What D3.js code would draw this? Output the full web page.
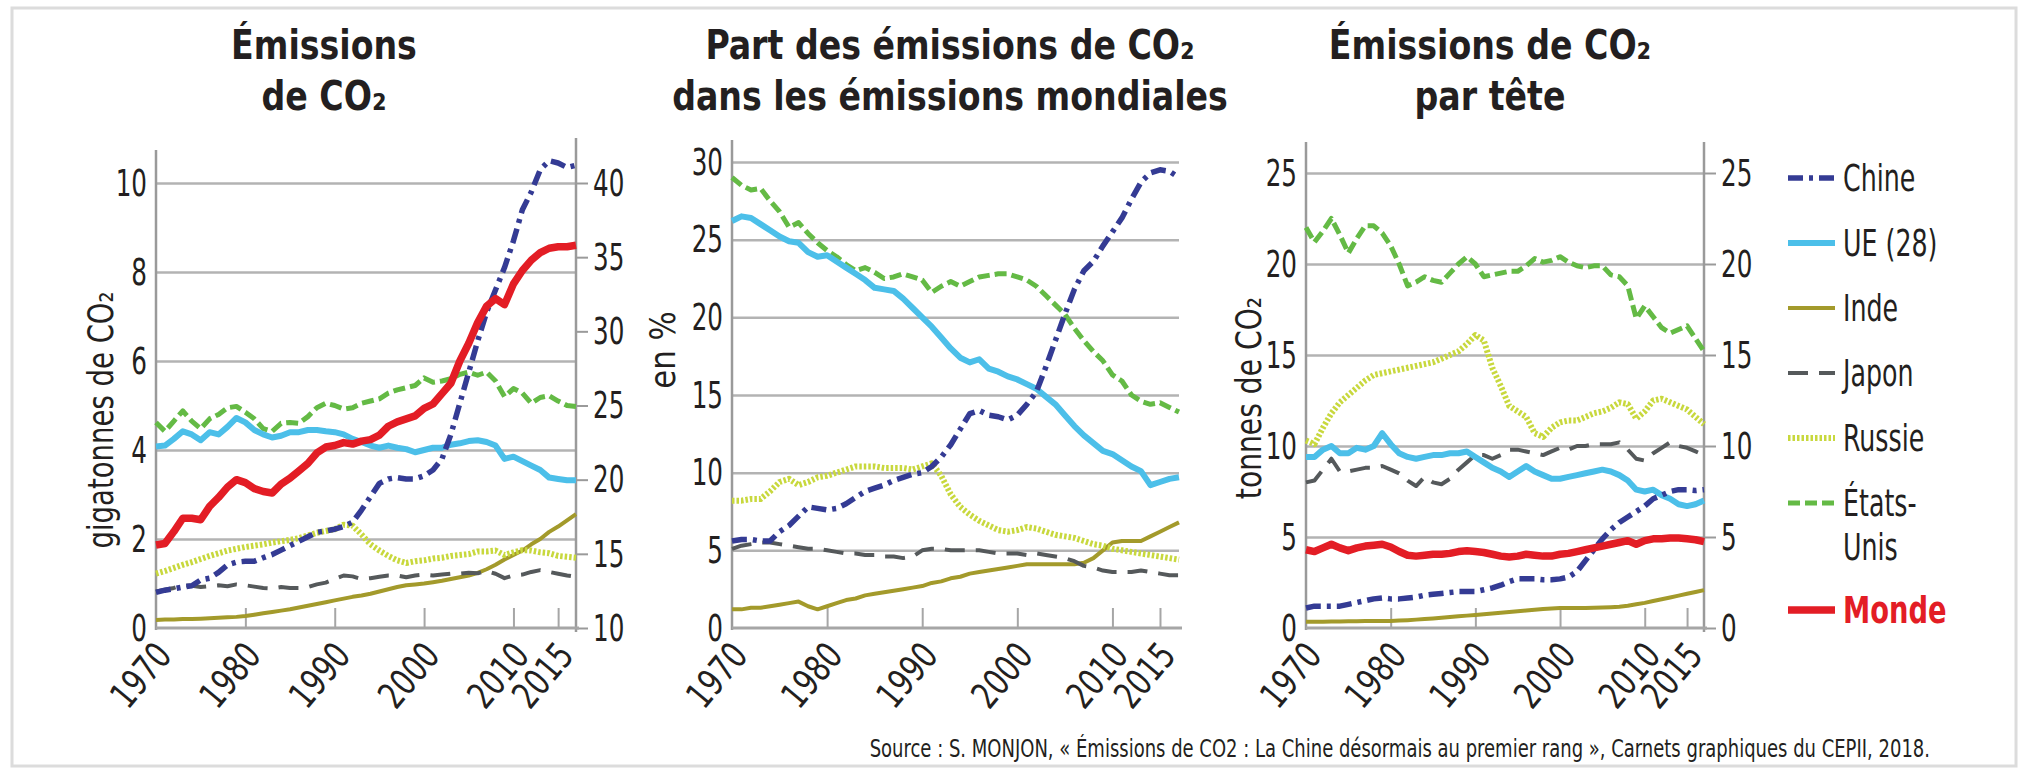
<!DOCTYPE html>
<html>
<head>
<meta charset="utf-8">
<script src="https://cdn.jsdelivr.net/npm/d3@7"></script>
<style>
  body { margin: 0; background: #fff; }
  svg text { font-family: 'DejaVu Sans Condensed', 'DejaVu Sans', sans-serif; fill: #231f20; }
</style>
</head>
<body>
<svg id="chart" width="2021" height="770"></svg>
<script>
const years = [1970,1971,1972,1973,1974,1975,1976,1977,1978,1979,
  1980,1981,1982,1983,1984,1985,1986,1987,1988,1989,
  1990,1991,1992,1993,1994,1995,1996,1997,1998,1999,
  2000,2001,2002,2003,2004,2005,2006,2007,2008,2009,
  2010,2011,2012,2013,2014,2015,2016,2017]

// emissions, gigatonnes (Monde on the right axis)
const gtChine = [0.80,0.85,0.88,0.92,0.95,1.08,1.12,1.25,1.42,1.48,
  1.50,1.50,1.58,1.65,1.75,1.85,1.95,2.05,2.15,2.18,
  2.22,2.28,2.38,2.65,2.95,3.25,3.35,3.38,3.35,3.35,
  3.42,3.55,3.80,4.35,5.05,5.75,6.45,7.10,7.60,8.10,
  8.70,9.40,9.80,10.30,10.50,10.45,10.35,10.40]
const gtUE = [4.08,4.10,4.25,4.42,4.35,4.22,4.40,4.35,4.52,4.72,
  4.62,4.45,4.35,4.28,4.32,4.40,4.40,4.45,4.45,4.42,
  4.40,4.35,4.25,4.18,4.10,4.05,4.10,4.05,4.02,3.95,
  4.00,4.05,4.05,4.12,4.15,4.20,4.22,4.18,4.10,3.80,
  3.85,3.75,3.65,3.55,3.38,3.35,3.32,3.32]
const gtInde = [0.18,0.19,0.19,0.20,0.20,0.21,0.22,0.23,0.24,0.25,
  0.27,0.30,0.33,0.36,0.39,0.42,0.46,0.50,0.54,0.58,
  0.62,0.66,0.70,0.73,0.77,0.82,0.87,0.92,0.96,0.98,
  1.00,1.03,1.06,1.10,1.14,1.18,1.24,1.32,1.42,1.54,
  1.64,1.74,1.88,2.00,2.16,2.28,2.42,2.56]
const gtJapon = [0.82,0.86,0.90,0.96,0.95,0.92,0.94,0.96,0.94,0.98,
  0.96,0.93,0.90,0.89,0.92,0.90,0.90,0.92,0.98,1.02,
  1.10,1.18,1.16,1.10,1.12,1.15,1.18,1.18,1.14,1.18,
  1.20,1.18,1.20,1.22,1.22,1.24,1.23,1.28,1.22,1.12,
  1.18,1.20,1.26,1.30,1.26,1.22,1.18,1.15]
const gtRussie = [1.22,1.28,1.35,1.42,1.48,1.55,1.62,1.68,1.74,1.78,
  1.82,1.85,1.88,1.92,1.95,1.98,2.02,2.08,2.14,2.18,
  2.22,2.32,2.30,2.10,1.88,1.74,1.62,1.52,1.46,1.50,
  1.52,1.56,1.58,1.62,1.64,1.66,1.72,1.72,1.74,1.64,
  1.70,1.75,1.74,1.70,1.68,1.62,1.60,1.58]
const gtEtatsUnis = [4.62,4.42,4.65,4.88,4.65,4.48,4.70,4.80,4.95,4.98,
  4.85,4.70,4.48,4.42,4.60,4.62,4.60,4.75,4.95,5.05,
  5.00,4.92,4.95,5.05,5.10,5.15,5.28,5.35,5.40,5.45,
  5.62,5.52,5.55,5.60,5.70,5.75,5.68,5.75,5.55,5.20,
  5.38,5.28,5.05,5.18,5.22,5.10,5.00,4.98]
const gtMonde = [15.6,15.7,16.5,17.4,17.4,17.3,18.2,18.8,19.5,20.0,
  19.8,19.4,19.2,19.1,19.7,20.1,20.6,21.1,21.8,22.2,
  22.3,22.5,22.4,22.6,22.7,23.0,23.6,23.9,24.1,24.3,
  24.8,25.1,25.8,26.5,28.0,29.2,30.6,31.7,32.2,31.8,
  33.2,34.1,34.8,35.3,35.6,35.7,35.7,35.8]

// share of world emissions, %
const partChine = [5.6,5.7,5.7,5.6,5.6,6.2,6.6,7.2,7.8,7.7,
  7.6,7.7,8.0,8.4,8.8,9.0,9.2,9.5,9.7,9.9,
  10.0,10.4,11.0,11.8,12.8,13.8,14.0,13.7,13.6,13.4,
  13.7,14.4,15.2,16.8,18.5,20.2,21.8,23.0,23.6,24.6,
  25.5,26.4,27.6,28.7,29.3,29.5,29.4,29.0]
const partUE = [26.2,26.5,26.4,26.0,25.6,25.2,24.9,24.8,24.2,23.9,
  24.0,23.6,23.2,22.8,22.4,21.9,21.8,21.7,21.2,20.6,
  20.0,19.4,18.7,18.0,17.4,17.1,17.3,16.7,16.5,16.2,
  16.0,15.7,15.4,14.9,14.4,13.7,13.0,12.4,11.9,11.4,
  11.2,10.8,10.4,10.1,9.2,9.4,9.6,9.7]
const partInde = [1.2,1.2,1.3,1.3,1.4,1.5,1.6,1.7,1.4,1.2,
  1.4,1.6,1.8,1.9,2.1,2.2,2.3,2.4,2.5,2.6,
  2.7,2.9,3.0,3.2,3.3,3.5,3.6,3.7,3.8,3.9,
  4.0,4.1,4.1,4.1,4.1,4.1,4.1,4.2,4.5,5.0,
  5.5,5.6,5.6,5.6,5.9,6.2,6.5,6.8]
const partJapon = [5.1,5.3,5.4,5.5,5.5,5.4,5.3,5.2,5.1,5.1,
  5.0,4.9,4.8,4.8,4.7,4.7,4.6,4.6,4.5,4.6,
  5.0,5.1,5.1,5.0,5.0,5.0,5.0,4.9,4.8,4.8,
  4.8,4.7,4.8,4.7,4.6,4.5,4.3,4.0,3.9,3.7,
  3.6,3.6,3.6,3.7,3.6,3.5,3.4,3.4]
const partRussie = [8.2,8.2,8.3,8.3,8.8,9.4,9.6,9.2,9.4,9.7,
  9.8,10.0,10.2,10.4,10.4,10.4,10.3,10.3,10.3,10.2,
  10.4,10.6,9.8,8.6,7.8,7.3,6.9,6.6,6.3,6.2,
  6.3,6.5,6.4,6.2,6.0,5.9,5.8,5.6,5.4,5.3,
  5.1,5.0,4.9,4.8,4.7,4.6,4.5,4.4]
const partEtatsUnis = [29.0,28.5,28.2,28.3,27.5,26.8,25.8,26.1,25.4,24.8,
  24.3,23.9,23.4,23.0,23.2,22.9,22.5,22.6,22.8,22.6,
  22.4,21.6,22.0,22.3,22.0,22.3,22.6,22.7,22.8,22.8,
  22.6,22.4,22.0,21.4,20.8,20.2,19.3,18.5,17.8,17.2,
  16.3,15.9,15.0,14.6,14.4,14.5,14.2,13.9]

// per capita, tonnes
const teteChine = [1.1,1.2,1.2,1.2,1.2,1.3,1.4,1.5,1.6,1.65,
  1.6,1.6,1.65,1.7,1.8,1.85,1.9,1.95,2.0,2.0,
  2.0,2.1,2.2,2.35,2.55,2.7,2.7,2.7,2.65,2.65,
  2.7,2.8,3.1,3.7,4.3,4.9,5.4,5.8,6.1,6.4,
  6.7,7.1,7.3,7.5,7.6,7.6,7.55,7.6]
const teteUE = [9.4,9.4,9.8,10.0,9.6,9.6,9.9,9.8,10.0,10.7,
  10.1,9.6,9.4,9.3,9.4,9.5,9.5,9.6,9.6,9.7,
  9.4,9.1,8.8,8.6,8.3,8.6,8.9,8.6,8.4,8.2,
  8.2,8.3,8.4,8.5,8.6,8.7,8.6,8.4,8.1,7.6,
  7.5,7.6,7.3,7.1,6.8,6.7,6.8,7.0]
const teteInde = [0.35,0.35,0.35,0.36,0.36,0.37,0.37,0.38,0.38,0.38,
  0.39,0.41,0.43,0.46,0.49,0.52,0.56,0.60,0.64,0.68,
  0.72,0.76,0.80,0.84,0.88,0.92,0.96,1.00,1.04,1.07,
  1.10,1.10,1.10,1.10,1.11,1.12,1.14,1.17,1.22,1.30,
  1.38,1.48,1.58,1.68,1.78,1.88,1.98,2.08]
const teteJapon = [8.0,8.1,8.7,9.3,8.6,8.6,8.7,8.8,8.8,8.9,
  8.7,8.5,8.1,7.8,8.3,8.0,7.9,8.2,8.7,9.1,
  9.5,9.5,9.3,9.5,9.8,9.8,9.7,9.6,9.5,9.7,
  9.9,9.8,10.0,10.0,10.1,10.1,10.1,10.2,9.8,9.3,
  9.2,9.6,9.9,10.2,10.0,9.9,9.7,9.5]
const teteRussie = [10.3,10.1,11.0,11.8,12.4,12.8,13.2,13.6,13.9,14.0,
  14.1,14.2,14.3,14.4,14.5,14.6,14.8,15.0,15.2,15.6,
  16.1,15.8,14.3,13.3,12.2,11.9,11.6,10.7,10.5,11.0,
  11.3,11.4,11.4,11.6,11.8,11.9,12.1,12.4,12.3,11.5,
  11.9,12.5,12.6,12.4,12.2,12.0,11.6,11.2]
const teteEtatsUnis = [22.0,21.2,21.8,22.5,21.6,20.6,21.4,22.1,22.1,21.7,
  21.0,20.0,18.8,19.0,19.3,19.1,19.0,19.5,20.0,20.4,
  20.0,19.3,19.4,19.5,19.6,19.6,19.9,20.3,20.1,20.2,
  20.4,20.1,19.9,19.8,19.9,19.9,19.4,19.3,18.8,17.0,
  17.7,17.1,16.5,16.2,16.4,16.6,15.9,15.2]
const teteMonde = [4.3,4.2,4.4,4.6,4.4,4.25,4.4,4.5,4.55,4.6,
  4.45,4.2,4.0,3.95,4.0,4.05,4.05,4.1,4.2,4.25,
  4.2,4.15,4.05,3.95,3.9,3.95,4.05,4.0,3.95,3.95,
  4.05,4.1,4.2,4.3,4.4,4.5,4.6,4.7,4.8,4.6,
  4.8,4.9,4.9,4.95,4.95,4.9,4.85,4.75]

const gtTicks = [0, 2, 4, 6, 8, 10]
const gtRightTicks = [10, 15, 20, 25, 30, 35, 40]
const partTicks = [0, 5, 10, 15, 20, 25, 30]
const teteTicks = [0, 5, 10, 15, 20, 25]
const yearTicks = [1970, 1980, 1990, 2000, 2010, 2015]
const seriesNames = ['Chine', 'UE (28)', 'Inde', 'Japon', 'Russie', 'États-Unis', 'Monde']

const styles = {
  'Chine':      {color: '#343b94', width: 5.5, dash: '15,6,4,6'},
  'UE (28)':    {color: '#4cbfe9', width: 6,   dash: null},
  'Inde':       {color: '#a39a2b', width: 4,   dash: null},
  'Japon':      {color: '#55595b', width: 4,   dash: '20,11'},
  'Russie':     {color: '#c8d83d', width: 6,   dash: '2.5,2'},
  'États-Unis': {color: '#64ba45', width: 5,   dash: '12,5'},
  'Monde':      {color: '#e31d25', width: 7.5, dash: null}
}

const BASE = 628
const svg = d3.select('#chart')

// squeeze text horizontally, the original uses a condensed face
function condense(sel, k) {
  sel.each(function () {
    const w = this.getComputedTextLength()
    this.setAttribute('textLength', (w * k).toFixed(1))
    this.setAttribute('lengthAdjust', 'spacingAndGlyphs')
  })
}

// frame
svg.append('rect')
  .attr('x', 12).attr('y', 8)
  .attr('width', 2004).attr('height', 758)
  .attr('fill', 'none').attr('stroke', '#dcdcdc').attr('stroke-width', 3)

function drawPanel(p) {
  const g = svg.append('g')
  const x = d3.scaleLinear().domain([1970, 2017]).range([p.left, p.right])
  const y = d3.scaleLinear().domain(p.yDomain).range([BASE, p.top])

  // gridlines
  g.append('g')
    .attr('transform', `translate(${p.left},0)`)
    .call(d3.axisLeft(y).tickValues(p.ticks.filter(t => t > 0)).tickSize(-(p.right - p.left)).tickFormat(''))
    .call(a => a.select('.domain').remove())
    .selectAll('line').attr('stroke', '#b3b3b3').attr('stroke-width', 2.5)

  // year ticks inside the plot
  g.append('g')
    .attr('transform', `translate(0,${BASE})`)
    .call(d3.axisBottom(x).tickValues(yearTicks.slice(1)).tickSize(-20).tickFormat(''))
    .call(a => a.select('.domain').remove())
    .selectAll('line').attr('stroke', '#a6a6a6').attr('stroke-width', 2)

  // year labels
  const xa = g.append('g')
    .attr('transform', `translate(0,${BASE})`)
    .call(d3.axisBottom(x).tickValues(yearTicks).tickSize(0).tickFormat(d3.format('d')))
  xa.select('.domain').remove()
  xa.selectAll('text')
    .attr('font-size', 37).attr('font-family', null)
    .attr('text-anchor', 'end')
    .attr('y', 0).attr('dy', '0.35em')
    .attr('transform', 'translate(7,20) rotate(-50)')
    .call(condense, 0.84)

  // left labels
  const ya = g.append('g')
    .attr('transform', `translate(${p.left},0)`)
    .call(d3.axisLeft(y).tickValues(p.ticks).tickSize(0).tickPadding(9))
  ya.select('.domain').remove()
  ya.selectAll('text').attr('font-size', 38).attr('font-family', null).call(condense, 0.72)

  // right axis
  if (p.rightDomain) {
    const yr = d3.scaleLinear().domain(p.rightDomain).range([BASE, p.top])
    const ra = g.append('g')
      .attr('transform', `translate(${p.right},0)`)
      .call(d3.axisRight(yr).tickValues(p.rightTicks).tickSize(12).tickPadding(5))
    ra.select('.domain').remove()
    ra.selectAll('line').attr('stroke', '#9a9a9a').attr('stroke-width', 2)
    ra.selectAll('text').attr('font-size', 38).attr('font-family', null).call(condense, 0.72)
    g.append('line')
      .attr('x1', p.right).attr('x2', p.right)
      .attr('y1', p.rightTopLine).attr('y2', BASE + 4)
      .attr('stroke', '#9a9a9a').attr('stroke-width', 2.5)
  }

  // axis lines
  g.append('line')
    .attr('x1', p.left).attr('x2', p.left)
    .attr('y1', p.topLine).attr('y2', BASE + 2)
    .attr('stroke', '#9a9a9a').attr('stroke-width', 2.5)
  g.append('line')
    .attr('x1', p.left).attr('x2', p.right + 3)
    .attr('y1', BASE).attr('y2', BASE)
    .attr('stroke', '#a6a6a6').attr('stroke-width', 3)

  // series
  const line = d3.line().x((d, i) => x(years[i]))
  p.series.forEach(s => {
    const st = styles[s.name]
    const yy = s.right ? d3.scaleLinear().domain(p.rightDomain).range([BASE, p.top]) : y
    g.append('path')
      .datum(s.values)
      .attr('d', line.y(d => yy(d)))
      .attr('fill', 'none')
      .attr('stroke', st.color)
      .attr('stroke-width', st.width)
      .attr('stroke-dasharray', st.dash)
      .attr('stroke-linejoin', 'round')
  })

  // title
  p.title.forEach((t, i) => {
    g.append('text')
      .attr('x', p.titleX).attr('y', 59 + i * 51)
      .attr('text-anchor', 'middle')
      .attr('font-size', 41).attr('font-weight', 'bold')
      .text(t)
      .call(condense, 0.9)
  })

  // y-axis title
  g.append('text')
    .attr('transform', `translate(${p.yLabel.x},${p.yLabel.y}) rotate(-90)`)
    .attr('text-anchor', 'middle')
    .attr('font-size', 36)
    .text(p.yLabel.text)
    .call(condense, p.yLabel.k)
}

drawPanel({
  left: 156, right: 576, top: 183, topLine: 150, rightTopLine: 138,
  yDomain: [0, 10], ticks: gtTicks,
  rightDomain: [10, 40], rightTicks: gtRightTicks,
  title: ['Émissions', 'de CO₂'], titleX: 324,
  yLabel: {text: 'gigatonnes de CO₂', x: 113, y: 420, k: 0.85},
  series: [
    {name: 'Inde', values: gtInde},
    {name: 'Japon', values: gtJapon},
    {name: 'Russie', values: gtRussie},
    {name: 'États-Unis', values: gtEtatsUnis},
    {name: 'UE (28)', values: gtUE},
    {name: 'Chine', values: gtChine},
    {name: 'Monde', values: gtMonde, right: true}
  ]
})

drawPanel({
  left: 732, right: 1179, top: 162, topLine: 140,
  yDomain: [0, 30], ticks: partTicks,
  title: ['Part des émissions de CO₂', 'dans les émissions mondiales'], titleX: 950,
  yLabel: {text: 'en %', x: 675, y: 350, k: 0.95},
  series: [
    {name: 'Inde', values: partInde},
    {name: 'Japon', values: partJapon},
    {name: 'Russie', values: partRussie},
    {name: 'États-Unis', values: partEtatsUnis},
    {name: 'UE (28)', values: partUE},
    {name: 'Chine', values: partChine}
  ]
})

drawPanel({
  left: 1306, right: 1704, top: 173, topLine: 142, rightTopLine: 142,
  yDomain: [0, 25], ticks: teteTicks,
  rightDomain: [0, 25], rightTicks: teteTicks,
  title: ['Émissions de CO₂', 'par tête'], titleX: 1490,
  yLabel: {text: 'tonnes de CO₂', x: 1261, y: 398, k: 0.87},
  series: [
    {name: 'Inde', values: teteInde},
    {name: 'Japon', values: teteJapon},
    {name: 'Russie', values: teteRussie},
    {name: 'États-Unis', values: teteEtatsUnis},
    {name: 'UE (28)', values: teteUE},
    {name: 'Chine', values: teteChine},
    {name: 'Monde', values: teteMonde}
  ]
})

// legend
const legend = svg.append('g')
seriesNames.forEach((name, i) => {
  const st = styles[name]
  const ly = 178 + i * 65 + (name === 'Monde' ? 42 : 0)
  legend.append('line')
    .attr('x1', 1788).attr('x2', 1835)
    .attr('y1', ly).attr('y2', ly)
    .attr('stroke', st.color).attr('stroke-width', st.width)
    .attr('stroke-dasharray', st.dash)
  const lines = name === 'États-Unis' ? ['États-', 'Unis'] : [name]
  lines.forEach((txt, j) => {
    const t = legend.append('text')
      .attr('x', 1843).attr('y', ly + j * 44).attr('dy', '0.35em')
      .attr('font-size', 38)
      .text(txt)
    if (name === 'Monde') t.attr('font-weight', 'bold').style('fill', st.color)
    t.call(condense, name === 'Monde' ? 0.8 : 0.74)
  })
})

// source
svg.append('text')
  .attr('x', 1930).attr('y', 757)
  .attr('text-anchor', 'end')
  .attr('font-size', 25)
  .text('Source : S. MONJON, « Émissions de CO2 : La Chine désormais au premier rang », Carnets graphiques du CEPII, 2018.')
  .call(condense, 0.8)
</script>
</body>
</html>
